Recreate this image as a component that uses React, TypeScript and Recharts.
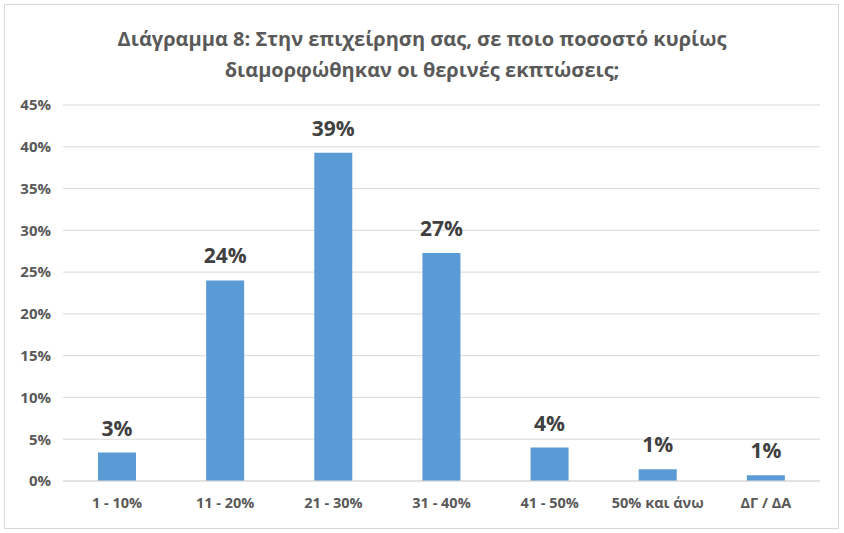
import { BarChart, Bar, XAxis, YAxis, CartesianGrid, LabelList } from 'recharts'

const categories = ['1 - 10%', '11 - 20%', '21 - 30%', '31 - 40%', '41 - 50%', '50% και άνω', 'ΔΓ / ΔΑ']
const shares = [3.4, 24.0, 39.3, 27.3, 4.0, 1.4, 0.7]
const yTicks = [0, 5, 10, 15, 20, 25, 30, 35, 40, 45]

const data = categories.map((name, i) => ({ name, value: shares[i] }))

const FONT = '"Open Sans", "Noto Sans", sans-serif'

export default function App() {
  return (
    <div
      style={{
        position: 'absolute',
        left: 0,
        top: 0,
        width: 844,
        height: 533,
        background: '#fff',
        fontFamily: FONT,
      }}
    >
      <div
        style={{
          position: 'absolute',
          left: 4,
          top: 4,
          width: 833,
          height: 523,
          border: '1px solid #d9d9d9',
        }}
      />
      <div
        style={{
          position: 'absolute',
          left: 0,
          top: 23,
          width: 844,
          textAlign: 'center',
          fontSize: 20,
          fontWeight: 700,
          lineHeight: '31px',
          color: '#595959',
        }}
      >
        Διάγραμμα 8: Στην επιχείρηση σας, σε ποιο ποσοστό κυρίως
        <br />
        διαμορφώθηκαν οι θερινές εκπτώσεις;
      </div>
      <div style={{ position: 'absolute', left: 0, top: 0 }}>
        <BarChart
          width={844}
          height={533}
          data={data}
          margin={{ top: 105, right: 24, bottom: 22, left: 8 }}
        >
          <CartesianGrid vertical={false} stroke="#d9d9d9" />
          <XAxis
            dataKey="name"
            height={30}
            axisLine={{ stroke: '#d9d9d9' }}
            tickLine={false}
            tickSize={0}
            tickMargin={17}
            interval={0}
            tick={{ fill: '#595959', fontSize: 14.5, fontWeight: 700, fontFamily: FONT }}
          />
          <YAxis
            width={55}
            domain={[0, 45]}
            ticks={yTicks}
            axisLine={false}
            tickLine={false}
            tickMargin={6}
            tickFormatter={(v: number) => `${v}%`}
            tick={{ fill: '#595959', fontSize: 15, fontWeight: 700, fontFamily: FONT }}
          />
          <Bar dataKey="value" fill="#5b9bd5" barSize={38} isAnimationActive={false}>
            <LabelList
              dataKey="value"
              position="top"
              offset={17}
              formatter={(v: number) => `${Math.round(v)}%`}
              style={{ fill: '#404040', fontSize: 21, fontWeight: 700, fontFamily: FONT }}
            />
          </Bar>
        </BarChart>
      </div>
    </div>
  )
}
